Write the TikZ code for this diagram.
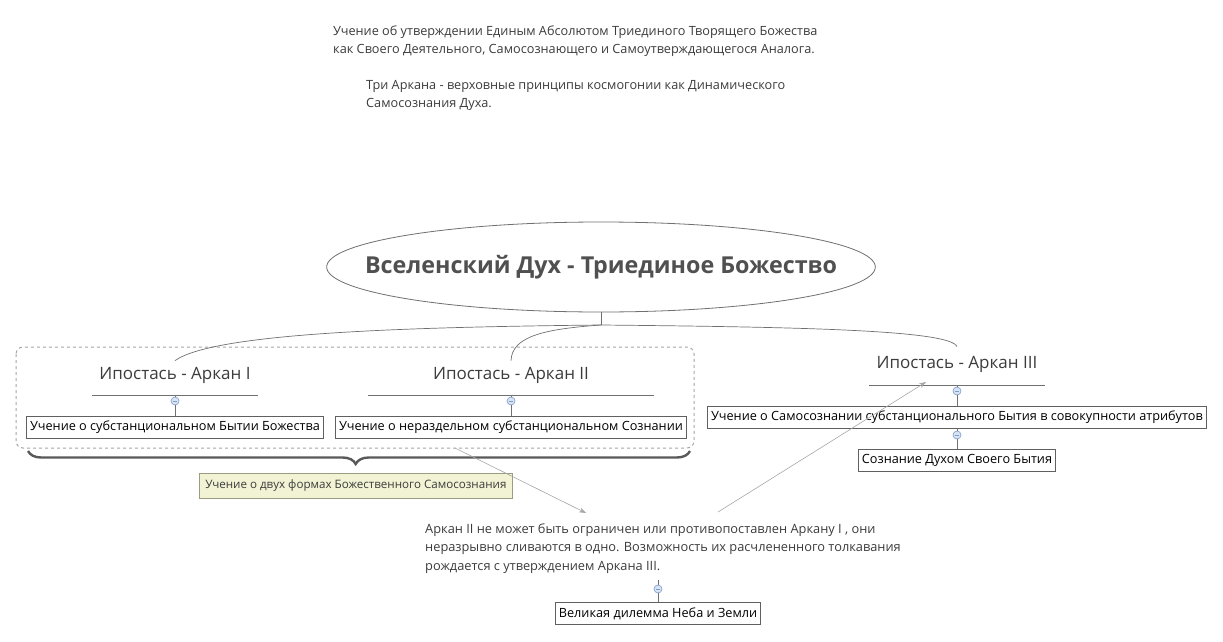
\documentclass[tikz,border=0pt]{standalone}
\usepackage{fontspec}
\setmainfont{Open Sans}
\usetikzlibrary{shapes.geometric,decorations.pathreplacing,arrows.meta,calc}
\definecolor{txt}{HTML}{3C3C3C}
\definecolor{conn}{HTML}{707070}
\definecolor{boxb}{HTML}{606060}
\definecolor{yel}{HTML}{F2F2D4}
\definecolor{yelb}{HTML}{9C9C80}
\definecolor{btnf}{HTML}{D8E4F4}
\definecolor{btnd}{HTML}{7C9CCB}
\tikzset{
  every node/.style={text=txt},
  topic/.style={font=\fontsize{17}{20}\selectfont, minimum height=38, inner sep=0pt, anchor=south},
  sub/.style={draw=boxb, line width=0.7pt, font=\fontsize{12.7}{14}\selectfont, text=black, inner xsep=3.5pt, minimum height=22, inner ysep=0pt},
  para/.style={font=\fontsize{12.7}{18}\selectfont, align=left, anchor=north west, inner sep=0pt},
  link/.style={draw=conn, line width=0.7pt},
  btn/.style={circle, draw=btnd, fill=btnf, minimum size=8, inner sep=0pt, line width=0.6pt,
    path picture={\draw[btnd, line width=0.5pt] ([xshift=-2pt]path picture bounding box.center) -- ([xshift=2pt]path picture bounding box.center);}},
  arr/.style={draw=gray!70, line width=0.6pt, -{Stealth[length=7pt,width=5pt]}},
}
\begin{document}
\begin{tikzpicture}[x=1pt,y=-1pt]
\useasboundingbox (0,0) rectangle (1223,642);
\fill[white] (0,0) rectangle (1223,642);

% top text
\node[para] (t1) at (333,26) {Учение об утверждении Единым Абсолютом Триединого Творящего Божества\\как Своего Деятельного, Самосознающего и Самоутверждающегося Аналога.};
\node[para] (t2) at (366,80) {Три Аркана - верховные принципы космогонии как Динамического\\Самосознания Духа.};

% root
\node[ellipse, draw=conn, line width=0.8pt, inner xsep=-42pt, minimum height=90, font=\bfseries\fontsize{23.3}{27}\selectfont, text=txt!90] (root) at (601,267) {Вселенский Дух - Триединое Божество};
\coordinate (hub) at (601,325);

% group frame
\draw[gray!70, dashed, line width=1pt, rounded corners=7] (16,347) rectangle (694,448);

% topics
\node[topic, minimum width=165] (a1) at (175,395) {Ипостась - Аркан I};
\node[topic, minimum width=285] (a2) at (511,395) {Ипостась - Аркан II};
\node[topic, minimum width=175, minimum height=40] (a3) at (957,385) {Ипостась - Аркан III};
\foreach \n in {a1,a2,a3} \draw[conn, line width=0.8pt] (\n.south west) -- (\n.south east);

% hub connections
\draw[link] (root.south) -- (hub);
\draw[link] (hub) .. controls (420,327) and (215,332) .. ([yshift=-4]a1.north);
\draw[link] (hub) .. controls (545,329) and (512,336) .. ([yshift=-4]a2.north);
\draw[link] (hub) .. controls (800,327) and (950,330) .. ([yshift=-2]a3.north);

% subtopics
\node[sub] (s1) at (175,427) {Учение о субстанциональном Бытии Божества};
\node[sub] (s2) at (511,427) {Учение о нераздельном субстанциональном Сознании};
\node[sub] (s3) at (957,417) {Учение о Самосознании субстанционального Бытия в совокупности атрибутов};
\node[sub] (s4) at (957,460.5) {Сознание Духом Своего Бытия};

\draw[link] (a1.south) -- (s1.north);
\draw[link] (a2.south) -- (s2.north);
\draw[link] (a3.south) -- (s3.north);
\draw[link] (s3.south) -- (s4.north);
\node[btn] (b1) at (175,401) {};
\node[btn] (b2) at (511,401) {};
\node[btn] (b3) at (957,391) {};
\node[btn] (b4) at (957,435) {};

% brace and callout
\draw[decorate, decoration={brace, mirror, amplitude=13pt, aspect=0.495}, draw=black!65, line width=2.4pt] (28,451) -- (690,451);
\node[draw=yelb, fill=yel, line width=0.7pt, font=\fontsize{11.6}{13}\selectfont, minimum height=25, minimum width=313, inner xsep=5pt, anchor=north west, text=txt] (call) at (199,473) {Учение о двух формах Божественного Самосознания};

% note
\node[para, font=\fontsize{12.8}{18.7}\selectfont] (note) at (425,523) {Аркан II не может быть ограничен или противопоставлен Аркану I , они\\неразрывно сливаются в одно. Возможность их расчлененного толкавания\\рождается с утверждением Аркана III.};
\node[sub] (s5) at (658,613.5) {Великая дилемма Неба и Земли};
\coordinate (nb) at (658,580);
\draw[link] (nb) -- (s5.north);
\node[btn] (b5) at (658,589) {};

% arrows
\coordinate (p1) at (455,448);
\coordinate (p2) at (586,513);
\coordinate (p3) at (718,512);
\coordinate (p4) at (926,382);
\draw[arr] (p1) -- (p2);
\draw[arr] (p3) -- (p4);
\end{tikzpicture}
\end{document}
